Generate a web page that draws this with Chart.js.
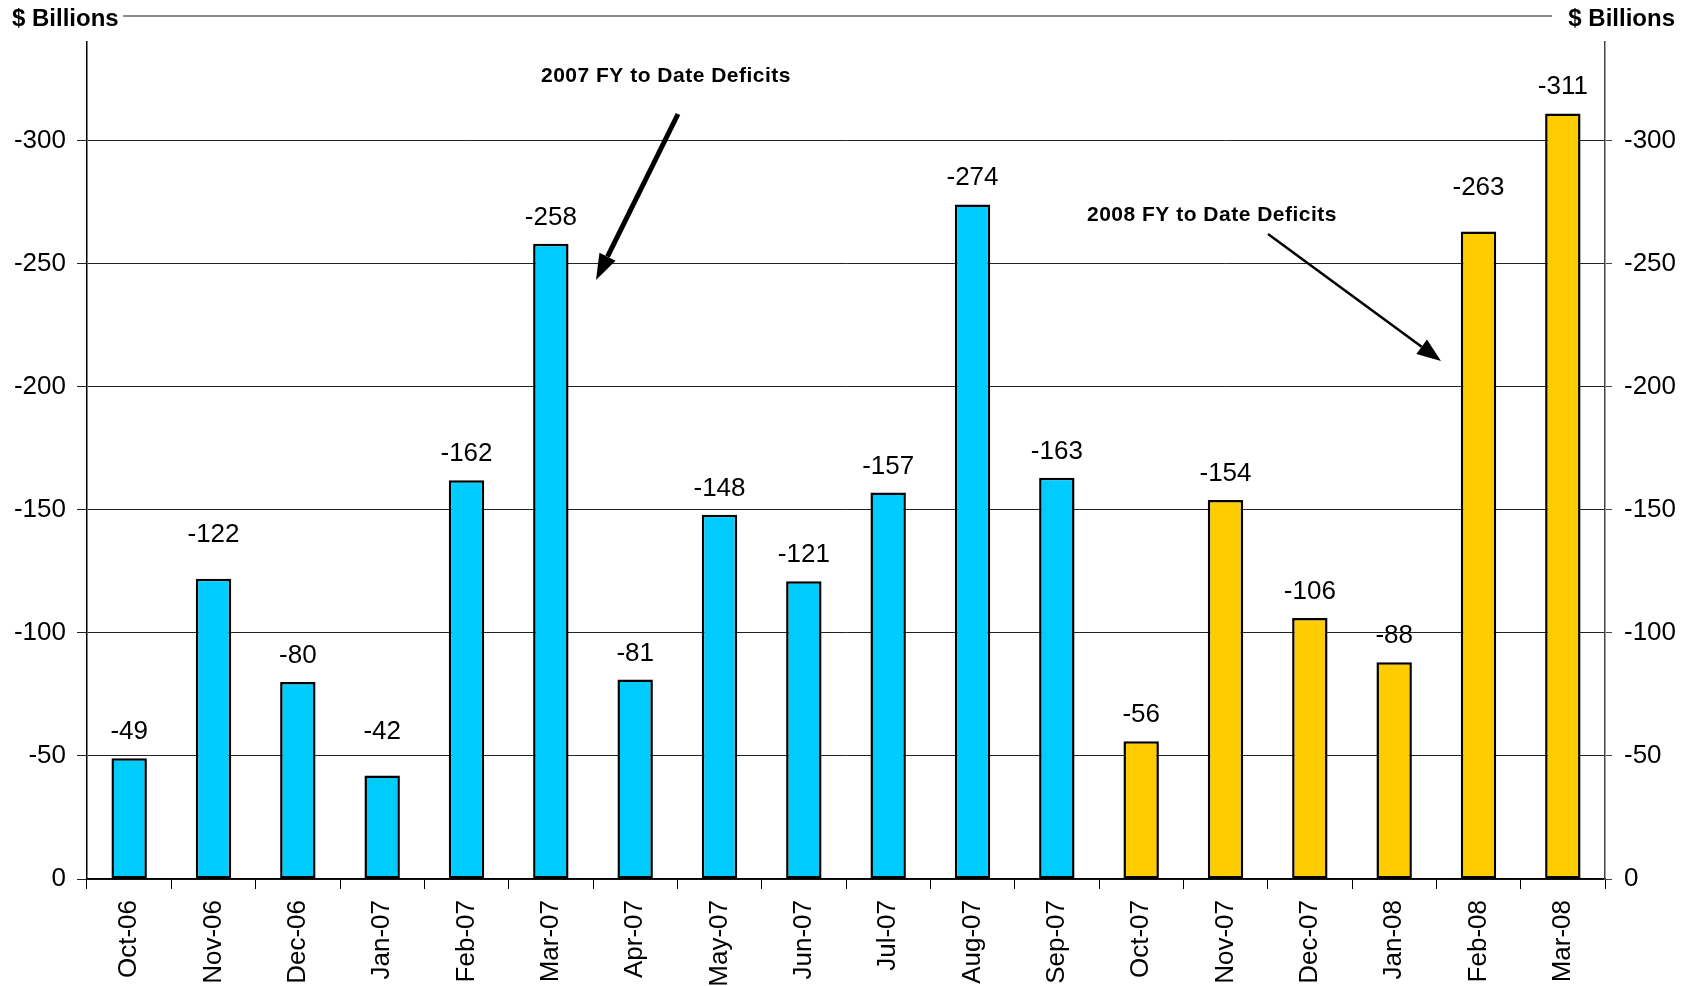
<!DOCTYPE html>
<html>
<head>
<meta charset="utf-8">
<script src="https://cdn.jsdelivr.net/npm/chart.js@4/dist/chart.umd.min.js"></script>
<style>
  html, body { margin: 0; padding: 0; background: #fff; }
  #wrap { width: 1690px; height: 986px; position: relative; }
</style>
</head>
<body>
<div id="wrap"><canvas id="chart"></canvas></div>
<script>
// monthly deficits, $ billions
const months = ['Oct-06', 'Nov-06', 'Dec-06', 'Jan-07', 'Feb-07', 'Mar-07', 'Apr-07', 'May-07', 'Jun-07',
  'Jul-07', 'Aug-07', 'Sep-07', 'Oct-07', 'Nov-07', 'Dec-07', 'Jan-08', 'Feb-08', 'Mar-08'];
const deficits = [-49, -122, -80, -42, -162, -258, -81, -148, -121, -157, -274, -163, -56, -154, -106, -88, -263, -311];
const fiscalYears = [2007, 2007, 2007, 2007, 2007, 2007, 2007, 2007, 2007, 2007, 2007, 2007,
  2008, 2008, 2008, 2008, 2008, 2008];
const yTickValues = [0, -50, -100, -150, -200, -250, -300];

const yearColors = { 2007: '#00CCFF', 2008: '#FFCC00' };
const FONT = '"Liberation Sans", Arial, sans-serif';

// a few labels sit higher in the original (Nov-06, Jan-07, Feb-08)
const raisedLabels = ['Nov-06', 'Jan-07', 'Feb-08'];

// keep only the 50-step ticks (drop the -340 bound)
const keepTicks = (scale) => {
  scale.ticks = scale.ticks.filter(t => yTickValues.includes(t.value));
};

// value labels above each bar
const barLabels = {
  id: 'barLabels',
  afterDatasetsDraw(chart) {
    const { ctx } = chart;
    const meta = chart.getDatasetMeta(0);
    ctx.save();
    ctx.font = '26px ' + FONT;
    ctx.fillStyle = '#000';
    ctx.textAlign = 'center';
    ctx.textBaseline = 'alphabetic';
    meta.data.forEach((bar, i) => {
      const lift = raisedLabels.includes(months[i]) ? 37 : 19;
      ctx.fillText(String(deficits[i]), bar.x, bar.y - lift);
    });
    ctx.restore();
  }
};

// "$ Billions" headers and the two arrow notes
const decorations = {
  id: 'decorations',
  afterDraw(chart) {
    const { ctx } = chart;
    ctx.save();
    ctx.font = 'bold 24px ' + FONT;
    ctx.fillStyle = '#000';
    ctx.textBaseline = 'alphabetic';
    ctx.textAlign = 'left';
    ctx.fillText('$ Billions', 12, 26);
    ctx.textAlign = 'right';
    ctx.fillText('$ Billions', 1675, 26);

    ctx.strokeStyle = '#8a8a8a';
    ctx.lineWidth = 2;
    ctx.beginPath();
    ctx.moveTo(123, 16);
    ctx.lineTo(1552, 16);
    ctx.stroke();

    ctx.font = 'bold 21px ' + FONT;
    ctx.letterSpacing = '0.5px';
    ctx.textAlign = 'center';
    ctx.textBaseline = 'middle';
    ctx.fillText('2007 FY to Date Deficits', 666, 76);
    ctx.fillText('2008 FY to Date Deficits', 1212, 215);
    ctx.letterSpacing = '0px';

    arrow(ctx, 678, 114, 596, 280, 5, 26);
    arrow(ctx, 1268, 234, 1441, 361, 2.5, 24);
    ctx.restore();
  }
};

function arrow(ctx, x1, y1, x2, y2, w, head) {
  const ang = Math.atan2(y2 - y1, x2 - x1);
  const bx = x2 - head * Math.cos(ang);
  const by = y2 - head * Math.sin(ang);
  ctx.strokeStyle = '#000';
  ctx.fillStyle = '#000';
  ctx.lineWidth = w;
  ctx.beginPath();
  ctx.moveTo(x1, y1);
  ctx.lineTo(bx, by);
  ctx.stroke();
  ctx.beginPath();
  ctx.moveTo(x2, y2);
  ctx.lineTo(bx + 9 * Math.sin(ang), by - 9 * Math.cos(ang));
  ctx.lineTo(bx - 9 * Math.sin(ang), by + 9 * Math.cos(ang));
  ctx.closePath();
  ctx.fill();
}

new Chart(document.getElementById('chart'), {
  type: 'bar',
  data: {
    labels: months,
    datasets: [{
      data: deficits,
      backgroundColor: fiscalYears.map(y => yearColors[y]),
      borderColor: '#000',
      borderWidth: 2.5,
      borderSkipped: false,
      barPercentage: 0.42,
      categoryPercentage: 1,
      yAxisID: 'y'
    }]
  },
  options: {
    responsive: true,
    maintainAspectRatio: false,
    animation: false,
    layout: { padding: { top: 42, left: 0, right: 0, bottom: 0 } },
    plugins: {
      legend: { display: false },
      tooltip: { enabled: false }
    },
    scales: {
      x: {
        offset: true,
        grid: { offset: true, drawOnChartArea: false, tickLength: 10, color: '#000', lineWidth: 1 },
        border: { color: '#000', width: 1.5 },
        ticks: {
          autoSkip: false, minRotation: 90, maxRotation: 90, padding: 11,
          color: '#000', font: { family: FONT, size: 26 }
        },
        afterFit: (s) => { s.height = 107; }
      },
      y: {
        position: 'left',
        reverse: true,
        min: -340,
        max: 0,
        afterBuildTicks: keepTicks,
        grid: { color: '#222', lineWidth: 1, tickLength: 10 },
        border: { color: '#000', width: 1.5 },
        ticks: { stepSize: 50, padding: 11, color: '#000', font: { family: FONT, size: 26 } },
        afterFit: (s) => { s.width = 87; }
      },
      y2: {
        position: 'right',
        reverse: true,
        min: -340,
        max: 0,
        afterBuildTicks: keepTicks,
        grid: { drawOnChartArea: false, color: '#444', tickLength: 7 },
        border: { color: '#444', width: 1.5 },
        ticks: { stepSize: 50, padding: 12, color: '#000', font: { family: FONT, size: 26 } },
        afterFit: (s) => { s.width = 85; }
      }
    }
  },
  plugins: [barLabels, decorations]
});
</script>
</body>
</html>
